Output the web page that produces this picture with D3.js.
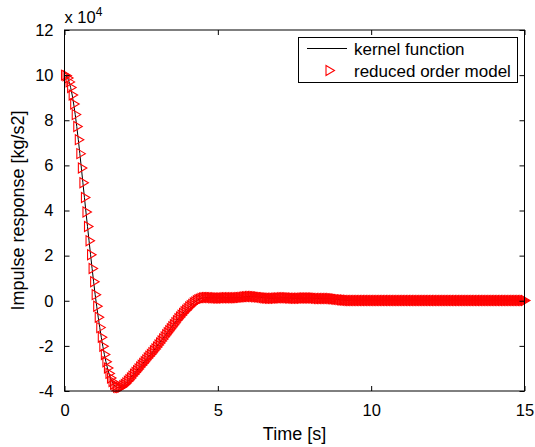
<!DOCTYPE html>
<html>
<head>
<meta charset="utf-8">
<script src="https://cdn.jsdelivr.net/npm/d3@7"></script>
<style>
  html, body { margin: 0; padding: 0; background: #fff; }
  svg { display: block; }
  text { font-family: "Liberation Sans", Arial, Helvetica, sans-serif; fill: #000; }
</style>
</head>
<body>
<svg id="chart" width="535" height="447"></svg>
<script>
// ---- data ----
const timeStep = 0.05;        // s, sample spacing
const xTicks = [0, 5, 10, 15];
const yTicks = [-4, -2, 0, 2, 4, 6, 8, 10, 12];
const yExponentLabel = "x 10";
const yExponent = "4";
const seriesNames = ["kernel function", "reduced order model"];
// impulse response values (units of 1e4 kg/s2), one per 0.05 s from 0 to 15 s
const response = [
  10.00, 9.97, 9.87, 9.70, 9.45, 9.12, 8.72, 8.25, 7.72, 7.14, 6.52, 5.88, 5.23, 4.58, 3.93, 3.29, 2.66, 2.04, 1.43, 0.84,
  0.27, -0.24, -0.73, -1.19, -1.62, -2.02, -2.38, -2.70, -2.98, -3.22, -3.42, -3.58, -3.70, -3.78, -3.83, -3.85, -3.85, -3.82, -3.77, -3.71,
  -3.64, -3.57, -3.50, -3.42, -3.34, -3.26, -3.18, -3.10, -3.02, -2.94, -2.86, -2.78, -2.70, -2.62, -2.54, -2.46, -2.38, -2.30, -2.22, -2.14,
  -2.05, -1.96, -1.87, -1.78, -1.69, -1.60, -1.51, -1.42, -1.33, -1.24, -1.15, -1.06, -0.97, -0.88, -0.80, -0.72, -0.64, -0.56, -0.49, -0.42,
  -0.35, -0.28, -0.22, -0.16, -0.10, -0.05, 0.00, 0.04, 0.07, 0.10, 0.12, 0.13, 0.14, 0.14, 0.14, 0.14, 0.13, 0.13, 0.13, 0.12,
  0.12, 0.12, 0.12, 0.12, 0.13, 0.13, 0.13, 0.13, 0.13, 0.13, 0.13, 0.13, 0.13, 0.14, 0.14, 0.15, 0.16, 0.17, 0.18, 0.18,
  0.19, 0.19, 0.19, 0.19, 0.18, 0.18, 0.17, 0.16, 0.15, 0.14, 0.13, 0.12, 0.12, 0.11, 0.11, 0.11, 0.11, 0.11, 0.12, 0.12,
  0.12, 0.13, 0.13, 0.13, 0.13, 0.13, 0.12, 0.12, 0.12, 0.11, 0.11, 0.11, 0.11, 0.11, 0.11, 0.12, 0.12, 0.12, 0.12, 0.12,
  0.12, 0.12, 0.12, 0.11, 0.11, 0.10, 0.10, 0.10, 0.10, 0.10, 0.10, 0.10, 0.10, 0.10, 0.09, 0.09, 0.08, 0.07, 0.06, 0.05,
  0.04, 0.03, 0.03, 0.02, 0.02, 0.01, 0.01, 0.01, 0.01, 0.01, 0.01, 0.01, 0.01, 0.01, 0.01, 0.01, 0.01, 0.01, 0.01, 0.01,
  0.01, 0.01, 0.01, 0.01, 0.01, 0.01, 0.01, 0.01, 0.01, 0.01, 0.01, 0.01, 0.01, 0.01, 0.01, 0.01, 0.01, 0.01, 0.01, 0.01,
  0.01, 0.01, 0.01, 0.01, 0.01, 0.01, 0.01, 0.01, 0.01, 0.01, 0.01, 0.01, 0.01, 0.01, 0.01, 0.01, 0.01, 0.01, 0.01, 0.01,
  0.01, 0.01, 0.01, 0.01, 0.01, 0.01, 0.01, 0.01, 0.01, 0.01, 0.01, 0.01, 0.01, 0.01, 0.01, 0.01, 0.01, 0.01, 0.01, 0.01,
  0.01, 0.01, 0.01, 0.01, 0.01, 0.01, 0.01, 0.01, 0.01, 0.01, 0.01, 0.01, 0.01, 0.01, 0.01, 0.01, 0.01, 0.01, 0.01, 0.01,
  0.01, 0.01, 0.01, 0.01, 0.01, 0.01, 0.01, 0.01, 0.01, 0.01, 0.01, 0.01, 0.01, 0.01, 0.01, 0.01, 0.01, 0.01, 0.01, 0.01,
  0.01
];

// ---- layout ----
const svg = d3.select("#chart");
const m = { left: 64.5, right: 524.5, top: 30, bottom: 391 };
const TICK_FONT = 16.5;
const LABEL_FONT = 18;
const LEGEND_FONT = 17;

const x = d3.scaleLinear().domain([0, 15]).range([m.left, m.right]);
const y = d3.scaleLinear().domain([-4, 12]).range([m.bottom, m.top]);

const pts = response.map((v, i) => ({ t: i * timeStep, v }));
const fmt = d => String(d);   // plain hyphen-minus like the original

// kernel line
svg.append("path")
  .datum(pts)
  .attr("fill", "none")
  .attr("stroke", "#000")
  .attr("stroke-width", 1)
  .attr("d", d3.line().x(d => x(d.t)).y(d => y(d.v)));

// reduced order model markers (right-pointing triangles)
const tri = "M-3,-5L5.5,0L-3,5Z";
svg.append("g")
  .selectAll("path")
  .data(pts)
  .join("path")
  .attr("d", tri)
  .attr("transform", d => `translate(${x(d.t)},${y(d.v)})`)
  .attr("fill", "none")
  .attr("stroke", "#ff0000")
  .attr("stroke-width", 1.1);

// axes with inward ticks on all four sides
const tickLen = 5;
const axB = svg.append("g").attr("transform", `translate(0,${m.bottom})`)
  .call(d3.axisBottom(x).tickValues(xTicks).tickSizeInner(-tickLen).tickSizeOuter(0).tickPadding(13).tickFormat(fmt));
const axT = svg.append("g").attr("transform", `translate(0,${m.top})`)
  .call(d3.axisTop(x).tickValues(xTicks).tickSizeInner(-tickLen).tickSizeOuter(0).tickFormat(""));
const axL = svg.append("g").attr("transform", `translate(${m.left},0)`)
  .call(d3.axisLeft(y).tickValues(yTicks).tickSizeInner(-tickLen).tickSizeOuter(0).tickPadding(11).tickFormat(fmt));
const axR = svg.append("g").attr("transform", `translate(${m.right},0)`)
  .call(d3.axisRight(y).tickValues(yTicks).tickSizeInner(-tickLen).tickSizeOuter(0).tickFormat(""));
[axB, axT, axL, axR].forEach(g => {
  g.select(".domain").remove();
  g.selectAll("line").attr("stroke", "#000");
  g.selectAll("text").attr("font-size", TICK_FONT).attr("fill", "#000")
    .style("font-family", '"Liberation Sans", Arial, sans-serif');
});

// box
svg.append("rect")
  .attr("x", m.left).attr("y", m.top)
  .attr("width", m.right - m.left).attr("height", m.bottom - m.top)
  .attr("fill", "none").attr("stroke", "#000").attr("stroke-width", 1);

// exponent label
const ex = svg.append("text").attr("x", m.left).attr("y", 23).attr("font-size", TICK_FONT);
ex.append("tspan").text(yExponentLabel);
ex.append("tspan").attr("font-size", 12).attr("dy", -7).text(yExponent);

// axis titles
svg.append("text")
  .attr("x", (m.left + m.right) / 2).attr("y", 440)
  .attr("text-anchor", "middle").attr("font-size", LABEL_FONT)
  .text("Time [s]");
svg.append("text")
  .attr("transform", `translate(24,${(m.top + m.bottom) / 2}) rotate(-90)`)
  .attr("text-anchor", "middle").attr("font-size", LABEL_FONT)
  .text("Impulse response [kg/s2]");

// legend
const lg = svg.append("g");
lg.append("rect").attr("x", 298.5).attr("y", 37.5).attr("width", 219).attr("height", 45)
  .attr("fill", "#fff").attr("stroke", "#000").attr("stroke-width", 1);
lg.append("line").attr("x1", 307).attr("x2", 347).attr("y1", 48.5).attr("y2", 48.5)
  .attr("stroke", "#000").attr("stroke-width", 1);
lg.append("path").attr("d", tri).attr("transform", "translate(329,70.5)")
  .attr("fill", "none").attr("stroke", "#ff0000").attr("stroke-width", 1.1);
lg.append("text").attr("x", 354).attr("y", 54.5).attr("font-size", LEGEND_FONT).text(seriesNames[0]);
lg.append("text").attr("x", 354).attr("y", 76.5).attr("font-size", LEGEND_FONT).text(seriesNames[1]);
</script>
</body>
</html>
